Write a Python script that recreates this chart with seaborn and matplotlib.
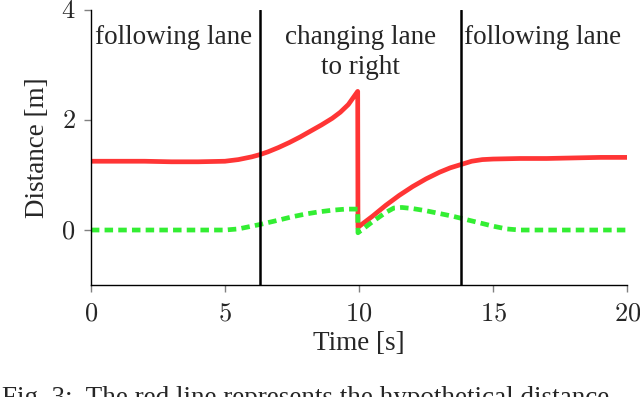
import matplotlib
matplotlib.use("Agg")
import matplotlib.pyplot as plt
import seaborn as sns
import pandas as pd
from matplotlib.ticker import FuncFormatter

# red line: distance before / after the lane switch at t=10
t_red = [0, 1, 2, 3, 4, 5, 5.5, 6, 6.3, 6.6, 7, 7.4, 7.8, 8.2, 8.6, 9, 9.3, 9.6, 9.95,
         9.96, 10.5, 11, 11.5, 12, 12.5, 13, 13.4, 13.8, 14.2, 14.6, 15, 16, 17, 18, 19, 20]
d_red = [1.25, 1.25, 1.25, 1.24, 1.24, 1.25, 1.28, 1.33, 1.37, 1.42, 1.50, 1.59, 1.69, 1.80, 1.91, 2.03, 2.14, 2.28, 2.52,
         0.05, 0.25, 0.45, 0.63, 0.79, 0.93, 1.05, 1.13, 1.19, 1.25, 1.28, 1.29, 1.30, 1.30, 1.31, 1.32, 1.32]

# green dashed line
t_green = [0, 1, 2, 3, 4, 5, 5.5, 6, 6.3, 7, 7.5, 8, 8.5, 9, 9.5, 9.95,
           9.96, 10.5, 11, 11.3, 11.6, 12, 12.5, 13, 13.5, 14, 14.5, 15, 15.5, 16, 17, 18, 19, 20]
d_green = [0, 0, 0, 0, 0, 0, 0.02, 0.07, 0.10, 0.18, 0.24, 0.29, 0.33, 0.36, 0.38, 0.38,
           -0.05, 0.15, 0.32, 0.40, 0.41, 0.39, 0.35, 0.30, 0.25, 0.19, 0.13, 0.07, 0.02, 0.0, 0, 0, 0, 0]

phase_edges = [6.3, 13.8]
phase_labels = ["following lane", "changing lane\nto right", "following lane"]
phase_x = [3.1, 10.05, 16.85]

red_df = pd.DataFrame({"t": t_red, "d": d_red})
green_df = pd.DataFrame({"t": t_green, "d": d_green})

sns.set_style("white")
plt.rcParams['font.family'] = ['Liberation Serif', 'DejaVu Serif']
plt.rcParams['mathtext.fontset'] = 'cm'

fig = plt.figure(figsize=(6.4, 3.97), dpi=100)
ax = fig.add_axes([0.142, 0.282, 0.838, 0.693])

sns.lineplot(data=red_df, x="t", y="d", ax=ax, color="#ff3535", linewidth=3.4,
             estimator=None, sort=False)
sns.lineplot(data=green_df, x="t", y="d", ax=ax, color="#33ee33", linewidth=3.4,
             estimator=None, sort=False, linestyle=(0, (1.8, 1.1)))

for e in phase_edges:
    ax.axvline(e, color="black", linewidth=1.8)

for x, lab in zip(phase_x, phase_labels):
    ax.text(x, 3.72, lab, ha="center", va="top", fontsize=19.5, linespacing=1.25)

ax.set_xlim(0, 20)
ax.set_ylim(-1, 4)
ax.set_xticks([0, 5, 10, 15, 20])
ax.set_yticks([0, 2, 4])
fmt = FuncFormatter(lambda v, p: r"$%d$" % v)
ax.xaxis.set_major_formatter(fmt)
ax.yaxis.set_major_formatter(fmt)
ax.tick_params(axis="both", direction="out", length=5, width=1, color="gray",
               labelsize=19, bottom=True, left=True)
ax.tick_params(axis="x", pad=8)
ax.tick_params(axis="y", pad=6)
ax.set_xlabel("Time [s]", fontsize=19.5, labelpad=4)
ax.set_ylabel("Distance [m]", fontsize=19.5, labelpad=8)
for s in ["top", "right"]:
    ax.spines[s].set_visible(False)
for s in ["left", "bottom"]:
    ax.spines[s].set_color("black")
    ax.spines[s].set_linewidth(1.0)

fig.text(0.003, -0.02, "Fig. 3:  The red line represents the hypothetical distance",
         fontsize=19.5, ha="left", va="baseline")

fig.savefig("out.png", dpi=100)
